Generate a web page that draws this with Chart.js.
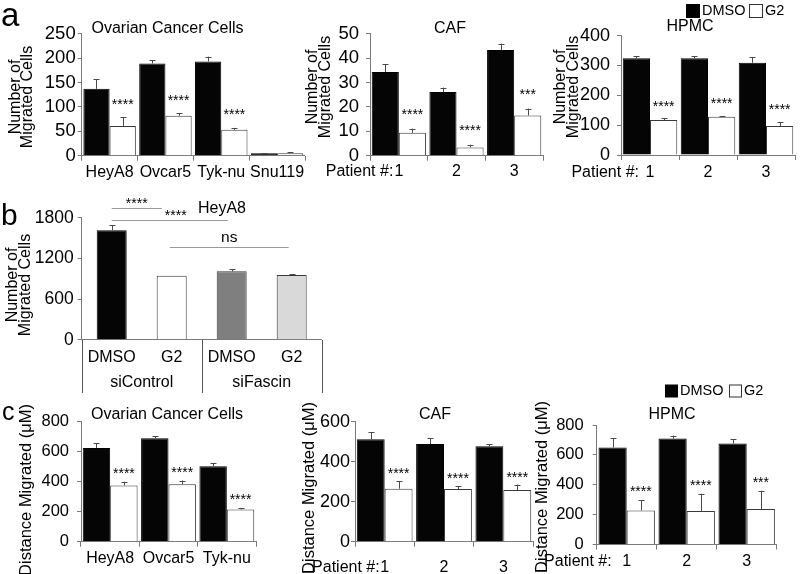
<!DOCTYPE html>
<html>
<head>
<meta charset="utf-8">
<script src="https://cdn.jsdelivr.net/npm/chart.js@4.4.1/dist/chart.umd.min.js"></script>
<style>
html, body { margin: 0; padding: 0; background: #fff; }
#fig { position: relative; width: 800px; height: 574px; overflow: hidden; background: #fff; }
#fig canvas { position: absolute; left: 0; top: 0; }
</style>
</head>
<body>
<div id="fig"></div>
<script>
// ---- data ----
const seriesNames = ['DMSO', 'G2'];
const cellLines = ['HeyA8', 'Ovcar5', 'Tyk-nu', 'Snu119'];
const cellLinesC = ['HeyA8', 'Ovcar5', 'Tyk-nu'];
const patients = ['1', '2', '3'];

// a: number of migrated cells
const aOvDmso = [137, 189, 193, 5];
const aOvDmsoErr = [20, 7, 10, 0.5];
const aOvG2 = [61, 82, 53, 5];
const aOvG2Err = [18, 5, 4, 2];
const aOvStars = ['****', '****', '****', ''];

const aCafDmso = [34.3, 26.1, 43.3];
const aCafDmsoErr = [3.3, 1.8, 2.6];
const aCafG2 = [9.4, 3.4, 16.5];
const aCafG2Err = [1.7, 1.1, 2.8];
const aCafStars = ['****', '****', '***'];

const aHpmcDmso = [324, 324, 309];
const aHpmcDmsoErr = [8, 8, 19];
const aHpmcG2 = [117, 128, 97];
const aHpmcG2Err = [6, 3, 14];
const aHpmcStars = ['****', '****', '****'];

// b: HeyA8 with siRNA
const bLabels = ['DMSO', 'G2', 'DMSO', 'G2'];
const bGroups = ['siControl', 'siFascin'];
const bValues = [1613, 945, 1009, 955];
const bErr = [74, 0, 30, 10];
const bSigPairs = [[0, 1], [0, 2], [1, 3]];
const bSigText = ['****', '****', 'ns'];
const bSigLevel = [1939, 1761, 1375];

// c: distance migrated
const cOvDmso = [625, 690, 503];
const cOvDmsoErr = [30, 12, 22];
const cOvG2 = [375, 383, 215];
const cOvG2Err = [25, 25, 8];
const cOvStars = ['****', '****', '****'];

const cCafDmso = [512, 488, 477];
const cCafDmsoErr = [35, 29, 10];
const cCafG2 = [265, 263, 258];
const cCafG2Err = [37, 14, 27];
const cCafStars = ['****', '****', '****'];

const cHpmcDmso = [649, 709, 676];
const cHpmcDmsoErr = [64, 20, 29];
const cHpmcG2 = [228, 224, 237];
const cHpmcG2Err = [67, 116, 123];
const cHpmcStars = ['****', '****', '***'];

// ---- drawing helpers ----
const FONT = '"Liberation Sans", Arial, Helvetica, sans-serif';
const AXIS = '#7a7a7a';
const LBL = 16; // x tick label size
const fig = document.getElementById('fig');

function drawText(ctx, t, x, y, size, opt) {
    opt = opt || {};
    ctx.save();
    ctx.font = (opt.bold ? 'bold ' : '') + size + 'px ' + FONT;
    ctx.fillStyle = '#000';
    ctx.textAlign = opt.align || 'center';
    ctx.textBaseline = opt.base || 'middle';
    ctx.translate(x, y);
    if (opt.rot) ctx.rotate(-Math.PI / 2);
    ctx.fillText(t, 0, 0);
    ctx.restore();
}

// asterisks sit high in the glyph box, so place them by their visual centre
function drawStars(ctx, t, x, cy) {
    drawText(ctx, t, x, cy + 8, 14, { base: 'alphabetic' });
}

function drawLegend(ctx, x, yc, sq, whiteX) {
    ctx.save();
    ctx.fillStyle = '#000';
    ctx.fillRect(x, yc - sq / 2, sq, sq);
    ctx.fillStyle = '#fff';
    ctx.strokeStyle = '#333';
    ctx.lineWidth = 1;
    ctx.fillRect(whiteX, yc - sq / 2, sq, sq);
    ctx.strokeRect(whiteX + 0.5, yc - sq / 2 + 0.5, sq - 1, sq - 1);
    ctx.restore();
    drawText(ctx, seriesNames[0], x + sq + 2, yc, 14.5, { align: 'left' });
    drawText(ctx, seriesNames[1], whiteX + sq + 2, yc, 14.5, { align: 'left' });
}

function pairSets(dmso, dmsoErr, g2, g2Err, stars) {
    return [
        { label: seriesNames[0], data: dmso, errs: dmsoErr, backgroundColor: '#050505', borderColor: '#000', borderWidth: 1 },
        { label: seriesNames[1], data: g2, errs: g2Err, stars: stars, backgroundColor: '#fff', borderColor: '#3a3a3a', borderWidth: 1 }
    ];
}

// o.box = [left, right, top(max value), bottom(zero)] of the plot area in page pixels
function panel(o) {
    const cv = document.createElement('canvas');
    cv.width = 800; cv.height = 574;
    fig.appendChild(cv);
    const [l, r, t, b] = o.box;
    const yw = 60, xh = Math.min(40, 574 - b);
    const tl = o.noXTicks ? 0 : 5;
    const labelY = b + tl + o.xPad + LBL * 1.2 / 2;

    const extras = {
        id: 'extras',
        afterDraw(chart) {
            const ctx = chart.ctx, xs = chart.scales.x, ys = chart.scales.y;
            chart.data.datasets.forEach((ds, i) => {
                if (!ds.errs) return;
                chart.getDatasetMeta(i).data.forEach((bar, j) => {
                    const e = ds.errs[j];
                    const top = ys.getPixelForValue(ds.data[j] + e);
                    if (e > 0) {
                        const x = Math.round(bar.x) + 0.5;
                        ctx.save();
                        ctx.strokeStyle = '#4a4a4a';
                        ctx.lineWidth = 1;
                        ctx.beginPath();
                        ctx.moveTo(x, bar.y);
                        ctx.lineTo(x, top);
                        ctx.moveTo(x - 3, Math.round(top) + 0.5);
                        ctx.lineTo(x + 3, Math.round(top) + 0.5);
                        ctx.stroke();
                        ctx.restore();
                    }
                    if (ds.stars && ds.stars[j]) drawStars(ctx, ds.stars[j], bar.x, top - o.starGap);
                });
            });
            if (o.prefix) drawText(ctx, 'Patient #:', xs.getPixelForValue(0) - o.prefix, labelY, LBL, { align: 'right' });
            if (o.draw) o.draw(chart, ctx, xs, ys);
            (o.texts || []).forEach(a => drawText(ctx, a[0], a[1], a[2], a[3], a[4]));
        }
    };

    return new Chart(cv, {
        type: 'bar',
        data: { labels: o.labels, datasets: o.datasets },
        options: {
            responsive: false,
            animation: false,
            events: [],
            layout: { padding: { left: l - yw, right: 800 - r, top: t, bottom: 574 - b - xh } },
            datasets: { bar: { categoryPercentage: o.catPct || 0.94, barPercentage: o.barPct || 1 } },
            plugins: { legend: { display: false }, tooltip: { enabled: false }, title: { display: false } },
            scales: {
                x: {
                    grid: { display: !o.noXTicks, drawOnChartArea: false, drawTicks: !o.noXTicks, tickLength: 5, color: AXIS, offset: true },
                    border: { color: AXIS, width: 1 },
                    ticks: { color: '#000', font: { family: FONT, size: LBL }, padding: o.xPad, maxRotation: 0, autoSkip: false },
                    afterFit(s) { s.height = xh; }
                },
                y: {
                    min: 0, max: o.max,
                    grid: { drawOnChartArea: false, tickLength: 4, color: AXIS },
                    border: { color: AXIS, width: 1 },
                    ticks: {
                        stepSize: o.step, autoSkip: false, color: '#000',
                        font: { family: FONT, size: o.yFont, lineHeight: 1 }, padding: o.yPad,
                        callback: v => String(v)
                    },
                    afterFit(s) { s.width = yw; }
                }
            }
        },
        plugins: [extras]
    });
}

// ---- row a ----
panel({
    box: [81.7, 305, 33.7, 155.7], max: 250, step: 50, yFont: 18.5, yPad: 2, xPad: 2.5, starGap: 16.5,
    labels: cellLines,
    datasets: pairSets(aOvDmso, aOvDmsoErr, aOvG2, aOvG2Err, aOvStars),
    texts: [
        ['a', 1, 26, 33, { align: 'left', base: 'alphabetic' }],
        ['Ovarian Cancer Cells', 167.5, 29, 16],
        ['Number of', 20, 97, 16, { rot: true, base: 'alphabetic' }],
        ['Migrated Cells', 31.5, 97, 16, { rot: true, base: 'alphabetic' }]
    ]
});

panel({
    box: [370, 543, 33.7, 155.7], max: 50, step: 10, yFont: 18.5, yPad: 7, xPad: 1.5, starGap: 17.5, prefix: 5.5,
    labels: patients,
    datasets: pairSets(aCafDmso, aCafDmsoErr, aCafG2, aCafG2Err, aCafStars),
    texts: [
        ['CAF', 450, 29, 16],
        ['Number of', 317, 87, 16, { rot: true, base: 'alphabetic' }],
        ['Migrated Cells', 330, 87, 16, { rot: true, base: 'alphabetic' }]
    ]
});

panel({
    box: [621, 795, 35.7, 155], max: 400, step: 100, yFont: 18, yPad: 7, xPad: 3, starGap: 15.5, prefix: 11,
    labels: patients,
    datasets: pairSets(aHpmcDmso, aHpmcDmsoErr, aHpmcG2, aHpmcG2Err, aHpmcStars),
    texts: [
        ['HPMC', 690, 27, 16],
        ['Number of', 565, 87, 16, { rot: true, base: 'alphabetic' }],
        ['Migrated Cells', 577.5, 87, 16, { rot: true, base: 'alphabetic' }]
    ],
    draw(chart, ctx) { drawLegend(ctx, 686, 11, 14, 749); }
});

// ---- row b ----
panel({
    box: [81.7, 321.7, 217.7, 339.7], max: 1800, step: 600, yFont: 17.5, yPad: 4, xPad: 8.5, noXTicks: true,
    catPct: 1, barPct: 0.5,
    labels: bLabels,
    datasets: [{
        data: bValues, errs: bErr,
        backgroundColor: ['#050505', '#ffffff', '#7f7f7f', '#d9d9d9'],
        borderColor: ['#000', '#3a3a3a', '#3a3a3a', '#3a3a3a'], borderWidth: 1
    }],
    texts: [
        ['b', 1, 225, 30, { align: 'left', base: 'alphabetic' }],
        ['HeyA8', 222, 209, 16],
        ['Number of', 17, 285, 16, { rot: true, base: 'alphabetic' }],
        ['Migrated Cells', 29.5, 285, 16, { rot: true, base: 'alphabetic' }]
    ],
    draw(chart, ctx, xs, ys) {
        const slot = xs.width / bLabels.length;
        ctx.save();
        ctx.strokeStyle = '#555';
        ctx.lineWidth = 1;
        [0, 2, 4].forEach(k => {
            const x = Math.round(xs.left + k * slot) + 0.5;
            ctx.beginPath(); ctx.moveTo(x, Math.round(ys.bottom)); ctx.lineTo(x, 393); ctx.stroke();
        });
        ctx.restore();
        bGroups.forEach((g, k) => drawText(ctx, g, xs.left + (2 * k + 1) * slot, 383, LBL));

        const bars = chart.getDatasetMeta(0).data;
        const inset = [[0, 10], [0, 4], [-2, 3]];
        const shift = [0, 6, 0];
        bSigPairs.forEach((p, k) => {
            const y = Math.round(ys.getPixelForValue(bSigLevel[k])) + 0.5;
            const x1 = bars[p[0]].x + inset[k][0], x2 = bars[p[1]].x - inset[k][1];
            ctx.save();
            ctx.strokeStyle = '#9a9a9a';
            ctx.lineWidth = 1;
            ctx.beginPath(); ctx.moveTo(x1, y); ctx.lineTo(x2, y); ctx.stroke();
            ctx.restore();
            const mx = (x1 + x2) / 2 + shift[k];
            if (bSigText[k] === 'ns') drawText(ctx, bSigText[k], mx, y - 10, 15.5);
            else drawStars(ctx, bSigText[k], mx, y - 9);
        });
    }
});

// ---- row c ----
panel({
    box: [81, 256, 421.7, 541.7], max: 800, step: 200, yFont: 16.5, yPad: 8, xPad: 2.5, starGap: 12,
    labels: cellLinesC,
    datasets: pairSets(cOvDmso, cOvDmsoErr, cOvG2, cOvG2Err, cOvStars),
    texts: [
        ['c', 2, 420, 25, { align: 'left', base: 'alphabetic' }],
        ['Ovarian Cancer Cells', 167, 415, 16],
        ['Distance Migrated (\u03bcM)', 31, 490, 16.5, { rot: true, base: 'alphabetic' }]
    ]
});

panel({
    box: [355, 533, 421.7, 541.7], max: 600, step: 200, yFont: 18, yPad: 1, xPad: 11.5, starGap: 11, prefix: 5,
    labels: patients,
    datasets: pairSets(cCafDmso, cCafDmsoErr, cCafG2, cCafG2Err, cCafStars),
    texts: [
        ['CAF', 435, 415, 16],
        ['Distance Migrated (\u03bcM)', 314, 488, 16.5, { rot: true, base: 'alphabetic' }]
    ]
});

panel({
    box: [596.7, 776.7, 425, 544.5], max: 800, step: 200, yFont: 16.5, yPad: 9, xPad: 2.5, starGap: 12, prefix: 15,
    labels: patients,
    datasets: pairSets(cHpmcDmso, cHpmcDmsoErr, cHpmcG2, cHpmcG2Err, cHpmcStars),
    texts: [
        ['HPMC', 672, 415, 16],
        ['Distance Migrated (\u03bcM)', 547, 487, 16.5, { rot: true, base: 'alphabetic' }]
    ],
    draw(chart, ctx) { drawLegend(ctx, 665, 391, 13, 729); }
});
</script>
</body>
</html>
